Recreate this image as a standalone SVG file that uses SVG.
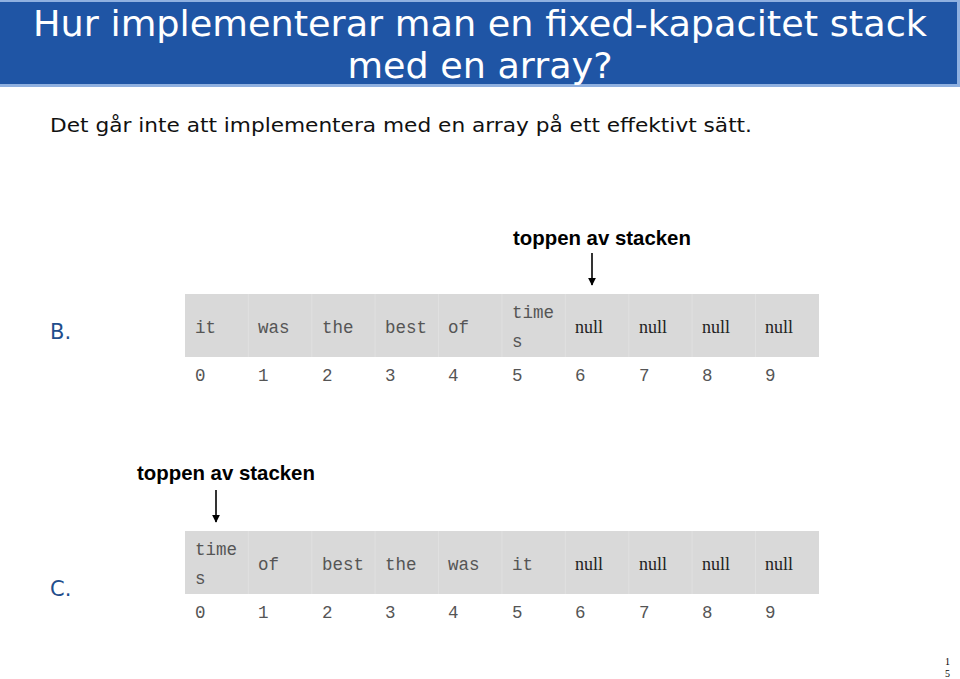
<svg xmlns="http://www.w3.org/2000/svg" width="960" height="679" viewBox="0 0 960 679">
<style>
.title{font-family:"DejaVu Sans",Verdana,sans-serif;font-size:36px;fill:#fff}
.sub{font-family:"DejaVu Sans",Verdana,sans-serif;font-size:20px;fill:#111}
.lbl{font-family:"Liberation Sans",Arial,sans-serif;font-size:20.4px;font-weight:bold;fill:#000}
.sec{font-family:"DejaVu Sans",Verdana,sans-serif;font-size:21px;fill:#1F4E8C}
.mono{font-family:"Liberation Mono","Courier New",monospace;font-size:17.5px;fill:#555}
.nul{font-family:"Liberation Serif","Times New Roman",serif;font-size:18px;fill:#222}
.cell{fill:#D9D9D9}
.sep{stroke:#E0E0E0;stroke-width:1}
.arr{stroke:#000;stroke-width:1.6;fill:none}
.pg{font-family:"Liberation Serif","Times New Roman",serif;font-size:10px;fill:#000}
</style>
<defs>
<marker id="ah" viewBox="0 0 10 10" refX="9" refY="5" markerWidth="5" markerHeight="5" orient="auto" markerUnits="strokeWidth">
<path d="M0,0 L10,5 L0,10 z" fill="#000"/>
</marker>
</defs>
<g id="header">
<rect x="0" y="0" width="960" height="87" fill="#8FB0E0"/>
<rect x="0" y="2" width="957" height="82" fill="#1F55A5"/>
<text class="title" x="480" y="36" text-anchor="middle" textLength="894" lengthAdjust="spacingAndGlyphs">Hur implementerar man en fixed-kapacitet stack</text>
<text class="title" x="480" y="78" text-anchor="middle" textLength="265" lengthAdjust="spacingAndGlyphs">med en array?</text>
</g>
<text class="sub" x="50" y="132" textLength="702" lengthAdjust="spacingAndGlyphs">Det går inte att implementera med en array på ett effektivt sätt.</text>

<g id="labelB">
<text class="lbl" x="513" y="245">toppen av stacken</text>
</g>
<g id="labelC">
<text class="lbl" x="137" y="480">toppen av stacken</text>
</g>
<text class="sec" x="50" y="339">B.</text>
<text class="sec" x="50" y="596">C.</text>

<g id="arrayB">
<rect class="cell" x="185" y="294" width="634" height="63"/>
<g class="sep">
<line x1="248.4" y1="294" x2="248.4" y2="357"/><line x1="311.8" y1="294" x2="311.8" y2="357"/><line x1="375.2" y1="294" x2="375.2" y2="357"/><line x1="438.6" y1="294" x2="438.6" y2="357"/><line x1="502" y1="294" x2="502" y2="357"/><line x1="565.4" y1="294" x2="565.4" y2="357"/><line x1="628.8" y1="294" x2="628.8" y2="357"/><line x1="692.2" y1="294" x2="692.2" y2="357"/><line x1="755.6" y1="294" x2="755.6" y2="357"/>
</g>
<text class="mono" x="195" y="333">it</text>
<text class="mono" x="258" y="333">was</text>
<text class="mono" x="322" y="333">the</text>
<text class="mono" x="385" y="333">best</text>
<text class="mono" x="448" y="333">of</text>
<text class="mono" x="512" y="318">time</text>
<text class="mono" x="512" y="347">s</text>
<text class="nul" x="575" y="333">null</text>
<text class="nul" x="639" y="333">null</text>
<text class="nul" x="702" y="333">null</text>
<text class="nul" x="765" y="333">null</text>
<text class="mono" x="195" y="381">0</text><text class="mono" x="258" y="381">1</text><text class="mono" x="322" y="381">2</text><text class="mono" x="385" y="381">3</text><text class="mono" x="448" y="381">4</text><text class="mono" x="512" y="381">5</text><text class="mono" x="575" y="381">6</text><text class="mono" x="639" y="381">7</text><text class="mono" x="702" y="381">8</text><text class="mono" x="765" y="381">9</text>
</g>

<g id="arrayC">
<rect class="cell" x="185" y="531" width="634" height="63"/>
<g class="sep">
<line x1="248.4" y1="531" x2="248.4" y2="594"/><line x1="311.8" y1="531" x2="311.8" y2="594"/><line x1="375.2" y1="531" x2="375.2" y2="594"/><line x1="438.6" y1="531" x2="438.6" y2="594"/><line x1="502" y1="531" x2="502" y2="594"/><line x1="565.4" y1="531" x2="565.4" y2="594"/><line x1="628.8" y1="531" x2="628.8" y2="594"/><line x1="692.2" y1="531" x2="692.2" y2="594"/><line x1="755.6" y1="531" x2="755.6" y2="594"/>
</g>
<text class="mono" x="195" y="555">time</text>
<text class="mono" x="195" y="584">s</text>
<text class="mono" x="258" y="570">of</text>
<text class="mono" x="322" y="570">best</text>
<text class="mono" x="385" y="570">the</text>
<text class="mono" x="448" y="570">was</text>
<text class="mono" x="512" y="570">it</text>
<text class="nul" x="575" y="570">null</text>
<text class="nul" x="639" y="570">null</text>
<text class="nul" x="702" y="570">null</text>
<text class="nul" x="765" y="570">null</text>
<text class="mono" x="195" y="618">0</text><text class="mono" x="258" y="618">1</text><text class="mono" x="322" y="618">2</text><text class="mono" x="385" y="618">3</text><text class="mono" x="448" y="618">4</text><text class="mono" x="512" y="618">5</text><text class="mono" x="575" y="618">6</text><text class="mono" x="639" y="618">7</text><text class="mono" x="702" y="618">8</text><text class="mono" x="765" y="618">9</text>
</g>

<g id="connectors">
<line class="arr" x1="592" y1="253" x2="592" y2="285" marker-end="url(#ah)"/>
<line class="arr" x1="216" y1="490" x2="216" y2="522" marker-end="url(#ah)"/>
</g>

<text class="pg" x="945" y="665">1</text>
<text class="pg" x="945" y="677">5</text>
</svg>
